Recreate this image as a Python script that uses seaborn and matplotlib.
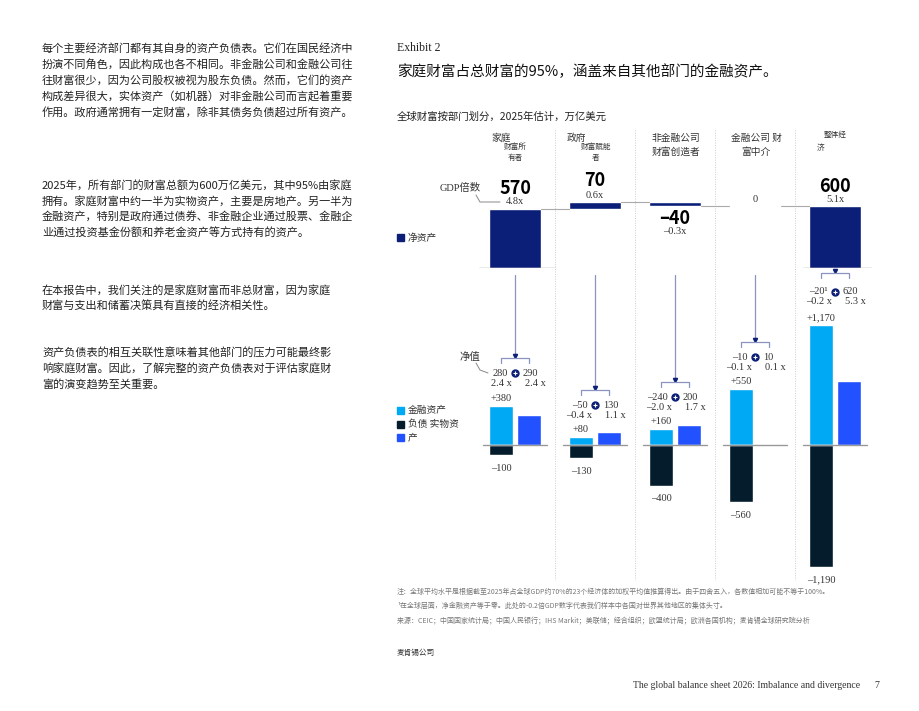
import matplotlib
matplotlib.use("Agg")
import matplotlib.pyplot as plt
import seaborn as sns
import numpy as np

sns.set_theme(style="white")
plt.rcParams['font.family'] = ['Noto Sans CJK SC', 'DejaVu Sans']

# ---------------- data ----------------
sectors = ["家庭", "政府", "非金融公司", "金融公司", "整体经济"]
net_worth = [570, 70, -40, 0]          # waterfall pieces; total computed
net_worth_total = 600
net_worth_labels = ["570", "70", "–40", "0", "600"]
net_worth_gdp = ["4.8x", "0.6x", "–0.3x", "", "5.1x"]
fin_assets = [380, 80, 160, 550, 1170]
liabilities = [-100, -130, -400, -560, -1190]
real_assets = [290, 130, 200, 10, 620]
net_fin = ["280", "–50", "–240", "–10", "–20¹"]
net_fin_gdp = ["2.4 x", "–0.4 x", "–2.0 x", "–0.1 x", "–0.2 x"]
real_lbl = ["290", "130", "200", "10", "620"]
real_gdp = ["2.4 x", "1.1 x", "1.7 x", "0.1 x", "5.3 x"]
fin_lbl = ["+380", "+80", "+160", "+550", "+1,170"]
liab_lbl = ["–100", "–130", "–400", "–560", "–1,190"]

C_NET = "#0B1F78"
C_FIN = "#00A9F4"
C_LIAB = "#051C2C"
C_REAL = "#2251FF"
GRAY = "#333333"
SERIF = ["Liberation Serif", "Noto Sans CJK SC"]

W, H = 920, 711
fig = plt.figure(figsize=(9.2, 7.11), dpi=100)

def frac(x0, y0, x1, y1):
    return [x0 / W, 1 - y1 / H, (x1 - x0) / W, (y1 - y0) / H]

# top net-worth axes
pxu = 0.1035
axt = fig.add_axes(frac(475, 130, 875, 268))
axt.set_xlim(-0.5, 4.5); axt.set_ylim(0, 138 / pxu)
cum = np.concatenate([[0], np.cumsum(net_worth)])
for i in range(4):
    axt.bar(i, net_worth[i], bottom=cum[i], width=0.65, color=C_NET)
axt.bar(4, net_worth_total, bottom=0, width=0.65, color=C_NET)
for i in range(3):
    axt.plot([i + 0.325, i + 0.675], [cum[i + 1]] * 2, color="#aaaaaa", lw=0.8)
axt.plot([3.325, 3.675], [cum[4]] * 2, color="#aaaaaa", lw=0.8)
axt.plot([-0.45, 0.5], [0, 0], color="#999999", lw=1)
axt.plot([3.6, 4.45], [0, 0], color="#999999", lw=1)
axt.axis("off")

# bottom axes
pxb = 0.1025
axb = fig.add_axes(frac(475, 300, 875, 580))
axb.set_xlim(-0.5, 4.5); axb.set_ylim(-135 / pxb, 145 / pxb)
x = np.arange(5)
axb.bar(x - 0.175, fin_assets, width=0.3, color=C_FIN)
axb.bar(x - 0.175, liabilities, width=0.3, color=C_LIAB)
axb.bar(x + 0.175, real_assets, width=0.3, color=C_REAL)
for i in range(5):
    axb.plot([i - 0.4, i + 0.4], [0, 0], color="#999999", lw=1)
    axb.annotate(fin_lbl[i], (i - 0.175, fin_assets[i]), xytext=(0, 2), textcoords="offset points",
                 ha="center", va="bottom", fontsize=7.5, color=GRAY, family=SERIF)
    axb.annotate(liab_lbl[i], (i - 0.175, liabilities[i]), xytext=(0, -6), textcoords="offset points",
                 ha="center", va="top", fontsize=7.5, color=GRAY, family=SERIF)
axb.axis("off")

# overlay for annotations
ov = fig.add_axes([0, 0, 1, 1], zorder=-1)
ov.set_xlim(0, W); ov.set_ylim(H, 0); ov.axis("off")

def t(xp, yp, s, **kw):
    kw.setdefault("fontsize", 7.5); kw.setdefault("color", GRAY); kw.setdefault("va", "center")
    ov.text(xp, yp, s, **kw)

# left paragraphs
paras = [
    (48, ["每个主要经济部门都有其自身的资产负债表。它们在国民经济中",
          "扮演不同角色，因此构成也各不相同。非金融公司和金融公司往",
          "往财富很少，因为公司股权被视为股东负债。然而，它们的资产",
          "构成差异很大，实体资产（如机器）对非金融公司而言起着重要",
          "作用。政府通常拥有一定财富，除非其债务负债超过所有资产。"]),
    (185, ["2025年，所有部门的财富总额为600万亿美元，其中95%由家庭",
           "拥有。家庭财富中约一半为实物资产，主要是房地产。另一半为",
           "金融资产，特别是政府通过债券、非金融企业通过股票、金融企",
           "业通过投资基金份额和养老金资产等方式持有的资产。"]),
    (290, ["在本报告中，我们关注的是家庭财富而非总财富，因为家庭",
           "财富与支出和储蓄决策具有直接的经济相关性。"]),
    (352, ["资产负债表的相互关联性意味着其他部门的压力可能最终影",
           "响家庭财富。因此，了解完整的资产负债表对于评估家庭财",
           "富的演变趋势至关重要。"]),
]
for y0, lines in paras:
    for k, l in enumerate(lines):
        t(42, y0 + k * 16, l, fontsize=8, color="#222222")

t(397, 48, "Exhibit 2", fontsize=8.5, family=SERIF, color="#222222")
t(397, 72, "家庭财富占总财富的95%，涵盖来自其他部门的金融资产。", fontsize=10.5, color="#111111")
t(397, 117, "全球财富按部门划分，2025年估计，万亿美元", fontsize=7.5, color="#222222")

# column headers
t(491, 138, "家庭", fontsize=7); t(504, 147, "财富所", fontsize=5.5); t(508, 158, "有者", fontsize=5.5)
t(567, 138, "政府", fontsize=7); t(581, 147, "财富赋能", fontsize=5.5); t(592, 158, "者", fontsize=5.5)
t(652, 138, "非金融公司", fontsize=7); t(652, 152, "财富创造者", fontsize=7)
t(731, 138, "金融公司 财", fontsize=7); t(741, 152, "富中介", fontsize=7)
t(824, 135, "整体经", fontsize=5.5); t(817, 148, "济", fontsize=5.5)

# separators
for xs in [555, 635, 715, 795]:
    ov.plot([xs, xs], [130, 580], color="#cccccc", lw=0.7, ls=(0, (1, 1.5)))

# top labels
cx = [515 + 80 * i for i in range(5)]
tops = [(188, 202), (181, 195), (219, 232), (199, None), (186, 199)]
for i in range(5):
    yb, ys = tops[i]
    if i == 3:
        t(cx[i], yb, net_worth_labels[i], ha="center", fontsize=7.5, family=SERIF)
        continue
    t(cx[i], yb, net_worth_labels[i], ha="center", fontsize=13, fontweight="bold", color="#000000")
    t(cx[i], ys, net_worth_gdp[i], ha="center", fontsize=7.5, family=SERIF)

t(440, 188, "GDP倍数", fontsize=7.5, family=["Liberation Serif", "Noto Sans CJK SC"])
ov.plot([476, 480, 500], [195, 202, 202], color="#888888", lw=0.7)
ov.add_patch(plt.Rectangle((397, 234), 7, 7, color=C_NET))
t(408, 238, "净资产", fontsize=7)

# brackets & arrows
br = [358, 390, 382, 342, 273]
for i in range(5):
    yb = br[i]
    if i < 4:
        ov.plot([cx[i], cx[i]], [275, yb - 3], color="#8a93c2", lw=0.9)
    ov.plot([cx[i]], [yb - 2], marker="v", ms=3, color=C_NET)
    ov.plot([cx[i] - 14, cx[i] - 14, cx[i] + 14, cx[i] + 14], [yb + 5, yb, yb, yb + 5],
            color="#8a93c2", lw=0.9)
    ty = yb + 15 if i < 4 else yb + 19
    ov.plot([cx[i]], [ty], marker="o", ms=5, color=C_NET)
    ov.plot([cx[i]], [ty], marker="+", ms=3, mew=0.8, color="white")
    t(cx[i] - 7, ty, net_fin[i], ha="right", family=SERIF)
    t(cx[i] + 8, ty, real_lbl[i], ha="left", family=SERIF)
    t(cx[i] - 3, ty + 10, net_fin_gdp[i], ha="right", family=SERIF)
    t(cx[i] + 31, ty + 10, real_gdp[i], ha="right", family=SERIF)

t(460, 357, "净值", fontsize=7.5)
ov.plot([476, 480, 488], [363, 370, 373], color="#888888", lw=0.7)

# bottom legend
for yy, c, lab in [(410, C_FIN, "金融资产"), (424, C_LIAB, "负债 实物资"), (437, C_REAL, "产")]:
    ov.add_patch(plt.Rectangle((397, yy - 3.5), 7, 7, color=c))
    t(408, yy, lab, fontsize=7)

# footnotes
t(397, 592, "注：全球平均水平是根据截至2025年占全球GDP约70%的23个经济体的加权平均值推算得出。由于四舍五入，各数值相加可能不等于100%。",
  fontsize=5.0, color="#777777")
t(397, 606, "¹在全球层面，净金融资产等于零。此处的-0.2倍GDP数字代表我们样本中各国对世界其他地区的集体头寸。", fontsize=5.0, color="#777777")
t(397, 620, "来源：CEIC；中国国家统计局；中国人民银行；IHS Markit；美联储；经合组织；欧盟统计局；欧洲各国机构；麦肯锡全球研究院分析",
  fontsize=5.0, color="#777777")
t(397, 653, "麦肯锡公司", fontsize=5.5, color="#333333")
t(633, 686, "The global balance sheet 2026: Imbalance and divergence", fontsize=7, family=SERIF, color="#333333")
t(874, 686, "7", fontsize=7, family=SERIF, color="#333333")

fig.savefig("out.png", dpi=100, facecolor="white")
